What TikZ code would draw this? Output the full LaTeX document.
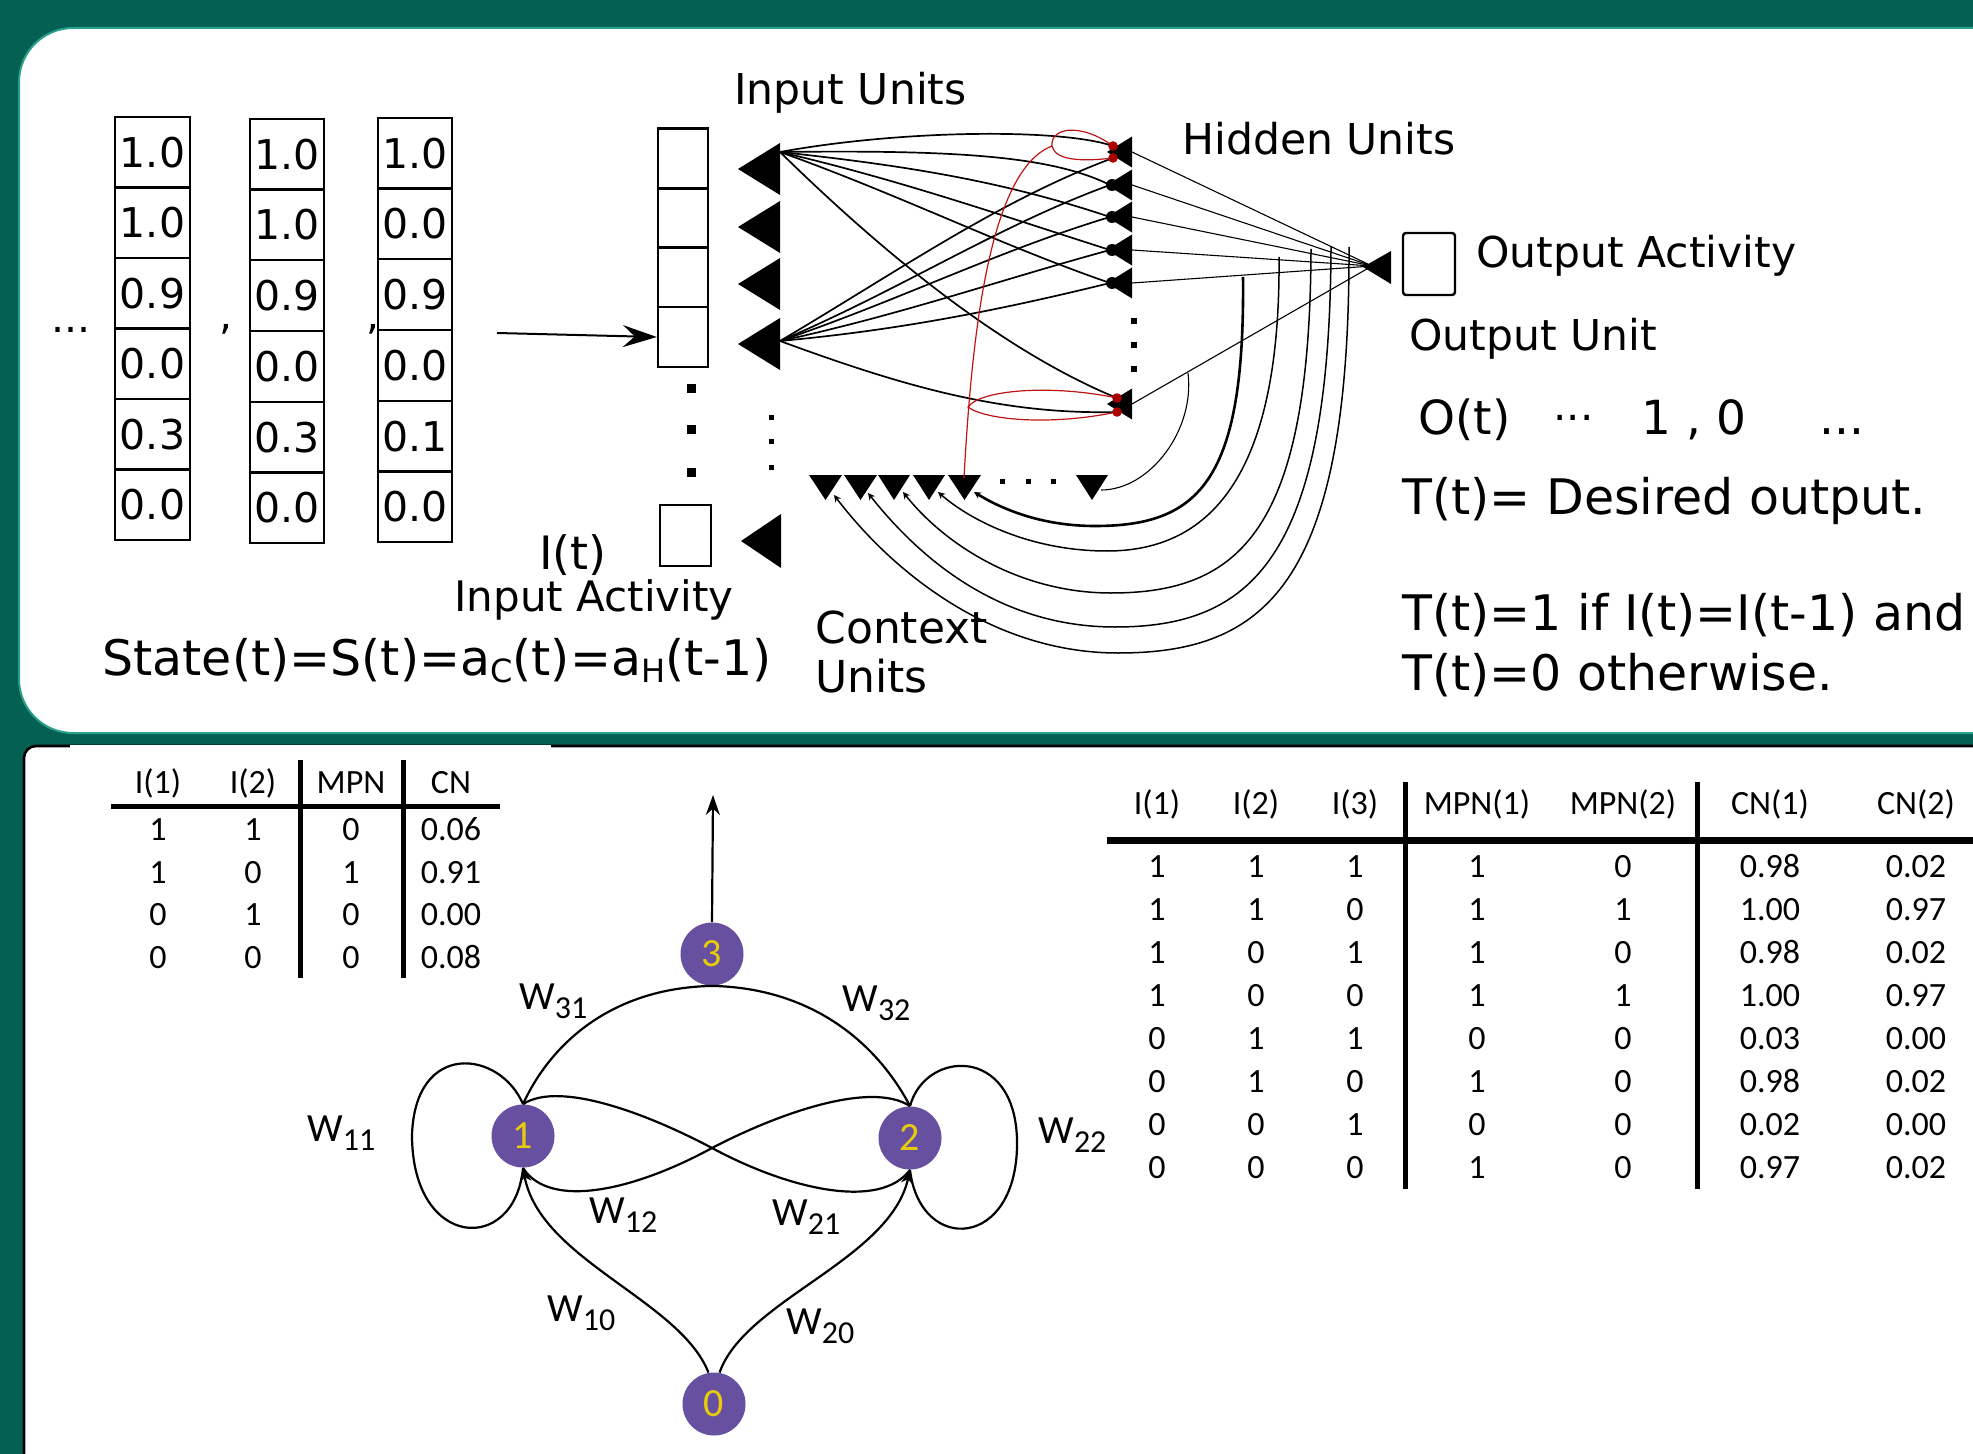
\documentclass[tikz,border=0pt]{standalone}
\usepackage{fontspec}
\setmainfont{DejaVu Sans}
\newfontfamily\carl{Carlito}
\usetikzlibrary{arrows.meta}
\definecolor{bgteal}{RGB}{3,96,83}
\definecolor{edgeteal}{RGB}{40,160,140}
\definecolor{npurple}{RGB}{104,80,160}
\definecolor{nyellow}{RGB}{232,204,10}
\definecolor{rline}{RGB}{190,20,20}
\definecolor{rdot}{RGB}{170,0,0}
\newcommand\myfs[1]{\fontsize{#1}{#1}\selectfont}
\newcommand\wsub[1]{\raisebox{-4.5pt}{\myfs{16pt}#1}}
\newcommand\ssub[1]{\raisebox{-3.5pt}{\myfs{16pt}#1}}
\begin{document}
\begin{tikzpicture}[x=0.5pt,y=-0.5pt,
  txt/.style={inner sep=0pt,anchor=base west},
  vbox/.style={draw,line width=1.1pt,minimum width=37.5pt,minimum height=35.3pt,inner sep=0pt,font=\myfs{20.5pt}},
  ubox/.style={draw,line width=1.2pt,minimum width=25pt,minimum height=30pt,inner sep=0pt},
  wire/.style={line width=0.85pt},
  hwire/.style={line width=0.55pt},
  carc/.style={line width=0.75pt,-{Stealth[length=3.5pt,width=3.5pt]}},
  redw/.style={draw=rline,line width=0.6pt},
  gnode/.style={circle,fill=npurple,minimum size=31.5pt,inner sep=0pt,text=nyellow,font=\carl\myfs{20pt}},
  gedge/.style={line width=1.1pt},
  gtip/.style={-{Stealth[length=7pt,width=6pt]}},
  wlab/.style={inner sep=0pt,anchor=base west,font=\carl\myfs{20pt}},
  tab/.style={inner sep=0pt,anchor=base,font=\carl\myfs{17pt}},
  lbl/.style={inner sep=0pt,anchor=base west,font=\myfs{21.25pt}},
  big/.style={inner sep=0pt,anchor=base west,font=\myfs{24.5pt}},
]
\useasboundingbox (0,0) rectangle (1973,1454);
\clip (0,0) rectangle (1973,1454);
\fill[bgteal] (0,0) rectangle (1973,1454);
\filldraw[fill=white,draw=edgeteal,line width=1pt,rounded corners=27pt] (19,28) rectangle (2060,733);
\filldraw[fill=white,draw=black,line width=1.3pt,rounded corners=6pt] (24,746) rectangle (2060,1520);
\fill[white] (70,744.6) rectangle (551,750);

% ---------------- input vectors
\foreach \val [count=\i from 0] in {1.0,1.0,0.9,0.0,0.3,0.0}
  \node[vbox] (va\i) at (152.5,152.3+70.5*\i) {\val};
\foreach \val [count=\i from 0] in {1.0,1.0,0.9,0.0,0.3,0.0}
  \node[vbox,minimum width=37pt] (vb\i) at (287,154.3+70.7*\i) {\val};
\foreach \val [count=\i from 0] in {1.0,0.0,0.9,0.0,0.1,0.0}
  \node[vbox,minimum width=37pt] (vc\i) at (415,153.3+70.7*\i) {\val};
\node[txt,font=\myfs{20.5pt}] (ldots) at (51,333) {...};
\node[txt,font=\myfs{20.5pt}] (comma1) at (219,330) {,};
\node[txt,font=\myfs{20.5pt}] (comma2) at (366,330) {,};

% ---------------- input units
\foreach \yy [count=\i] in {158.5,218,277,337} \node[ubox] (iu\i) at (683,\yy) {};
\node[ubox,minimum width=25.5pt,minimum height=30.5pt] (iu5) at (685.5,535.5) {};
\foreach \yy in {389,430,472} \fill (686.5,\yy-4.5) rectangle (695.5,\yy+4.5);
\foreach \yy in {418,442,467} \fill (768.5,\yy-2.5) rectangle (773.5,\yy+2.5);
\coordinate (vecout) at (497,333);
\draw[line width=1pt,-{Stealth[length=17pt,width=11pt,inset=6pt]}] (vecout) -- (iu4.west);

% ---------------- coordinates of the net
\coordinate (A) at (780,152);
\coordinate (B) at (780,341);
\coordinate (h1a) at (1113,146);
\coordinate (h1b) at (1113,158);
\coordinate (h2) at (1110,185);
\coordinate (h3) at (1110,217);
\coordinate (h4) at (1110,250);
\coordinate (h5) at (1110,283);
\coordinate (hba) at (1117,398);
\coordinate (hbb) at (1117,412);
\foreach \yy [count=\i] in {152,185,217,250,283,404} \coordinate (hr\i) at (1132,\yy);
\coordinate (otip) at (1372,266);
\coordinate (as1) at (1349,247);
\coordinate (as2) at (1331,247);
\coordinate (as3) at (1311,249);
\coordinate (as4) at (1279,257);
\coordinate (as5) at (1243,277);
\coordinate (asb) at (1188,373);
\coordinate (ce1) at (834,495);
\coordinate (ce2) at (868,493);
\coordinate (ce3) at (903,492);
\coordinate (ce4) at (938,492);
\coordinate (ce5) at (974,492);
\coordinate (ceb) at (1101,490);
\coordinate (rbase) at (964,478);
\coordinate (rtop) at (1052,146);
\coordinate (rlow) at (968,407);

% input -> hidden
\draw[wire] (A) .. controls (900,130) and (1060,128) .. (h1a);
\draw[wire] (A) .. controls (950,150) and (1050,155) .. (h2);
\draw[wire] (A) .. controls (900,165) and (1000,180) .. (h3);
\draw[wire] (A) .. controls (900,180) and (1000,215) .. (h4);
\draw[wire] (A) .. controls (900,195) and (1000,245) .. (h5);
\draw[wire] (A) .. controls (880,250) and (1000,350) .. (hba);
\draw[wire] (B) .. controls (900,270) and (1000,200) .. (h1b);
\draw[wire] (B) .. controls (900,290) and (1000,225) .. (h2);
\draw[wire] (B) .. controls (900,300) and (1000,250) .. (h3);
\draw[wire] (B) .. controls (900,315) and (1000,280) .. (h4);
\draw[wire] (B) .. controls (900,330) and (1000,310) .. (h5);
\draw[wire] (B) .. controls (900,385) and (1000,415) .. (hbb);

% hidden -> output
\foreach \i in {1,...,6} \draw[hwire] (hr\i) -- (otip);

% output -> context arcs
\draw[carc,line width=1.3pt] (as5) .. controls (1245,480) and (1200,526) .. (1095,526) .. controls (1040,526) and (1000,508) .. (ce5);
\draw[carc] (as4) .. controls (1281,490) and (1200,551) .. (1107,551) .. controls (1030,551) and (970,520) .. (ce4);
\draw[carc] (as3) .. controls (1310,530) and (1240,593) .. (1111,593) .. controls (1020,593) and (945,545) .. (ce3);
\draw[carc] (as2) .. controls (1330,560) and (1250,627) .. (1115,627) .. controls (1005,627) and (925,565) .. (ce2);
\draw[carc] (as1) .. controls (1350,585) and (1265,653) .. (1118,653) .. controls (995,653) and (895,575) .. (ce1);
\draw[line width=0.55pt] (asb) .. controls (1195,430) and (1150,490) .. (ceb);

% triangles
\foreach \yy in {169,227,284,344} \fill (738,\yy) -- (780,\yy-26) -- (780,\yy+26) -- cycle;
\fill (741,541) -- (781,514) -- (781,568) -- cycle;
\foreach \yy in {152,185,217,250,283,404} \fill (1107,\yy) -- (1132,\yy-15.5) -- (1132,\yy+15.5) -- cycle;
\foreach \xa/\xb in {809/842,844/877,878/910,913/945,948/981,1076/1108}
  \fill (\xa,475) -- (\xb,475) -- ({(\xa+\xb)/2},500) -- cycle;
\fill (1363,267) -- (1391,251) -- (1391,284) -- cycle;
\foreach \yy in {185,217,250,283} \fill (1112,\yy) circle[radius=3pt];
\foreach \yy in {321,345,369} \fill (1131,\yy-3) rectangle (1137,\yy+3);
\foreach \xx in {1002,1028,1053} \fill (\xx-2.5,478.5) rectangle (\xx+2.5,483.5);

% red links
\draw[redw] (rbase) .. controls (972,330) and (990,170) .. (rtop);
\draw[redw] (h1a) .. controls (1080,122) and (1050,128) .. (rtop) .. controls (1055,160) and (1080,162) .. (h1b);
\draw[redw] (hba) .. controls (1050,384) and (980,390) .. (rlow) .. controls (985,420) and (1050,426) .. (hbb);
\foreach \p in {h1a,h1b,hba,hbb} \fill[rdot] (\p) circle[radius=2.4pt];

% output box
\node[draw,line width=1.2pt,rounded corners=1.5pt,minimum width=26pt,minimum height=31pt,inner sep=0pt] (obox) at (1429,264) {};

% ---------------- texts of the top panel
\node[lbl] (inunits) at (734,105) {Input Units};
\node[lbl] (hidunits) at (1182,155) {Hidden Units};
\node[lbl] (outact) at (1476,268) {Output Activity};
\node[lbl] (outunit) at (1409,351) {Output Unit};
\node[txt,font=\myfs{23.5pt}] (ot) at (1418,435) {O(t)};
\node[txt,font=\myfs{21pt}] (odots) at (1553,433) {···};
\node[txt,font=\myfs{23.5pt}] (onez) at (1641,435) {1 , 0};
\node[txt,font=\myfs{23.5pt}] (odots2) at (1819,435) {...};
\node[big] (tdes) at (1402,514) {T(t)= Desired output.};
\node[big] (tone) at (1402,630) {T(t)=1 if I(t)=I(t-1) and};
\node[big] (tzero) at (1402,690) {T(t)=0 otherwise.};
\node[txt,font=\myfs{23pt}] (it) at (539,569) {I(t)};
\node[txt,font=\myfs{21pt}] (inact) at (454,611) {Input Activity};
\node[big] (state) at (102,675) {State(t)=S(t)=a\ssub{C}(t)=a\ssub{H}(t-1)};
\node[txt,font=\myfs{22pt}] (ctx1) at (815,643) {Context};
\node[txt,font=\myfs{22pt}] (ctx2) at (815,692) {Units};

% ---------------- small table
\fill (111,803.5) rectangle (500,809);
\fill (297.5,760) rectangle (302.5,978);
\fill (400.5,760) rectangle (405.5,978);
\node[tab] (sh1) at (158,793) {I(1)};
\node[tab] (sh2) at (253,793) {I(2)};
\node[tab] (sh3) at (351,793) {MPN};
\node[tab] (sh4) at (451,793) {CN};
\foreach \row [count=\r from 0] in {{1,1,0,0.06},{1,0,1,0.91},{0,1,0,0.00},{0,0,0,0.08}}{
  \foreach \cell [count=\c from 0] in \row {
    \pgfmathsetmacro\xx{{158,253,351,451}[\c]}
    \node[tab] (st-\r-\c) at (\xx,840.5+42.7*\r) {\cell};
  }
}

% ---------------- big table
\fill (1107,837) rectangle (1990,843.5);
\fill (1402.5,782) rectangle (1407.5,1189);
\fill (1694.5,782) rectangle (1699.5,1189);
\foreach \hd [count=\c from 0] in {I(1),I(2),I(3),MPN(1),MPN(2),CN(1),CN(2)}{
  \pgfmathsetmacro\xx{{1157,1256,1355,1477,1623,1770,1916}[\c]}
  \node[tab] (bh-\c) at (\xx,814) {\hd};
}
\foreach \row [count=\r from 0] in {{1,1,1,1,0,0.98,0.02},{1,1,0,1,1,1.00,0.97},{1,0,1,1,0,0.98,0.02},{1,0,0,1,1,1.00,0.97},{0,1,1,0,0,0.03,0.00},{0,1,0,1,0,0.98,0.02},{0,0,1,0,0,0.02,0.00},{0,0,0,1,0,0.97,0.02}}{
  \foreach \cell [count=\c from 0] in \row {
    \pgfmathsetmacro\xx{{1157,1256,1355,1477,1623,1770,1916}[\c]}
    \node[tab] (bt-\r-\c) at (\xx,877.5+43*\r) {\cell};
  }
}

% ---------------- graph
\node[gnode] (n3) at (712,954) {3};
\node[gnode] (n1) at (523,1136) {1};
\node[gnode] (n2) at (910,1138) {2};
\node[gnode] (n0) at (714,1404) {0};
\coordinate (outtop) at (713,795);
\draw[gedge,-{Stealth[length=10pt,width=7pt]}] (n3.north) -- (outtop);
\draw[gedge] (n1.north) .. controls (550,1045) and (610,988) .. (n3.south);
\draw[gedge] (n3.south) .. controls (814,988) and (878,1045) .. (n2.north);
\draw[gedge] (n1.north) .. controls (500,1050) and (415,1040) .. (412,1135) .. controls (412,1250) and (515,1255) .. (n1.south);
\draw[gedge] (n2.north) .. controls (925,1050) and (1015,1045) .. (1017,1140) .. controls (1019,1250) and (920,1255) .. (n2.south);
\draw[gedge] (n1.north) .. controls (560,1080) and (650,1115) .. (712,1148) .. controls (790,1190) and (880,1210) .. (n2.south);
\draw[gedge] (n2.north) .. controls (870,1080) and (775,1115) .. (712,1148) .. controls (635,1190) and (550,1210) .. (n1.south);
\draw[gedge,gtip] (n0.100) .. controls (680,1300) and (540,1260) .. (n1.south);
\draw[gedge,gtip] (n0.80) .. controls (745,1300) and (890,1260) .. (n2.south);
\node[wlab] (w31) at (519,1009) {W\wsub{31}};
\node[wlab] (w32) at (842,1011) {W\wsub{32}};
\node[wlab] (w11) at (307,1141) {W\wsub{11}};
\node[wlab] (w22) at (1038,1143) {W\wsub{22}};
\node[wlab] (w12) at (589,1223) {W\wsub{12}};
\node[wlab] (w21) at (772,1225) {W\wsub{21}};
\node[wlab] (w10) at (547,1321) {W\wsub{10}};
\node[wlab] (w20) at (786,1334) {W\wsub{20}};
\end{tikzpicture}
\end{document}
